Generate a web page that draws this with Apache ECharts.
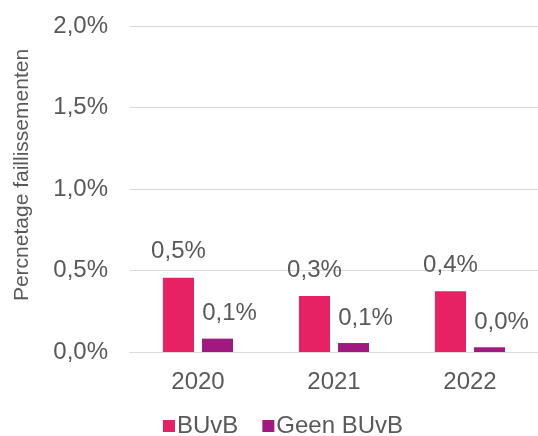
<!DOCTYPE html>
<html lang="nl">
<head>
    <meta charset="UTF-8">
    <title>Percentage faillissementen</title>
    <script src="https://cdn.jsdelivr.net/npm/echarts@6/dist/echarts.min.js"></script>
    <style>
        * { margin: 0; padding: 0; }
        #chart { width: 538px; height: 436px; background: #fff; }
    </style>
</head>
<body>
    <div id="chart"></div>
    <script>
        const years = ['2020', '2021', '2022'];
        const buvb = [0.455, 0.344, 0.372];
        const geenBuvb = [0.082, 0.055, 0.029];
        const yTicks = [0, 0.5, 1.0, 1.5, 2.0];

        const grey = '#595959';
        const font = 'Liberation Sans, Arial, sans-serif';
        const pct = v => v.toFixed(1).replace('.', ',') + '%';

        const chart = echarts.init(document.getElementById('chart'), null, { renderer: 'canvas' });

        chart.setOption({
            animation: false,
            textStyle: { fontFamily: font },
            grid: { left: 130, right: 0, top: 26, bottom: 84, outerBoundsMode: 'none', containLabel: false },
            legend: {
                top: 409,
                left: 158,
                itemWidth: 12,
                itemHeight: 12,
                itemGap: 24,
                icon: 'rect',
                textStyle: { fontSize: 24, color: grey, fontFamily: font, padding: [0, 0, 0, -3] },
                data: ['BUvB', 'Geen BUvB']
            },
            xAxis: {
                type: 'category',
                data: years,
                axisLine: { lineStyle: { color: '#d9d9d9', width: 1 } },
                axisTick: { show: false },
                axisLabel: { fontSize: 24, color: grey, margin: 18, fontFamily: font }
            },
            yAxis: {
                type: 'value',
                min: yTicks[0],
                max: yTicks[yTicks.length - 1],
                interval: 0.5,
                name: 'Percnetage faillissementen',
                nameLocation: 'middle',
                nameGap: 97,
                nameRotate: 90,
                nameTextStyle: { fontSize: 21, color: grey, fontFamily: font, padding: [0, 0, 0, 28] },
                axisLine: { show: false },
                axisTick: { show: false },
                axisLabel: { fontSize: 24, color: grey, margin: 22, fontFamily: font, formatter: pct },
                splitLine: { lineStyle: { color: '#d9d9d9', width: 1 } }
            },
            series: [
                {
                    name: 'BUvB',
                    type: 'bar',
                    data: buvb,
                    barWidth: 31,
                    barGap: '26%',
                    itemStyle: { color: '#E62264' },
                    label: {
                        show: true,
                        position: 'top',
                        distance: 14,
                        fontSize: 24,
                        color: grey,
                        fontFamily: font,
                        formatter: p => pct(p.value)
                    }
                },
                {
                    name: 'Geen BUvB',
                    type: 'bar',
                    data: geenBuvb,
                    barWidth: 31,
                    itemStyle: { color: '#A0197F' },
                    label: {
                        show: true,
                        position: 'top',
                        distance: 13,
                        offset: [12, 0],
                        fontSize: 24,
                        color: grey,
                        fontFamily: font,
                        formatter: p => pct(p.value)
                    }
                }
            ]
        });
    </script>
</body>
</html>
